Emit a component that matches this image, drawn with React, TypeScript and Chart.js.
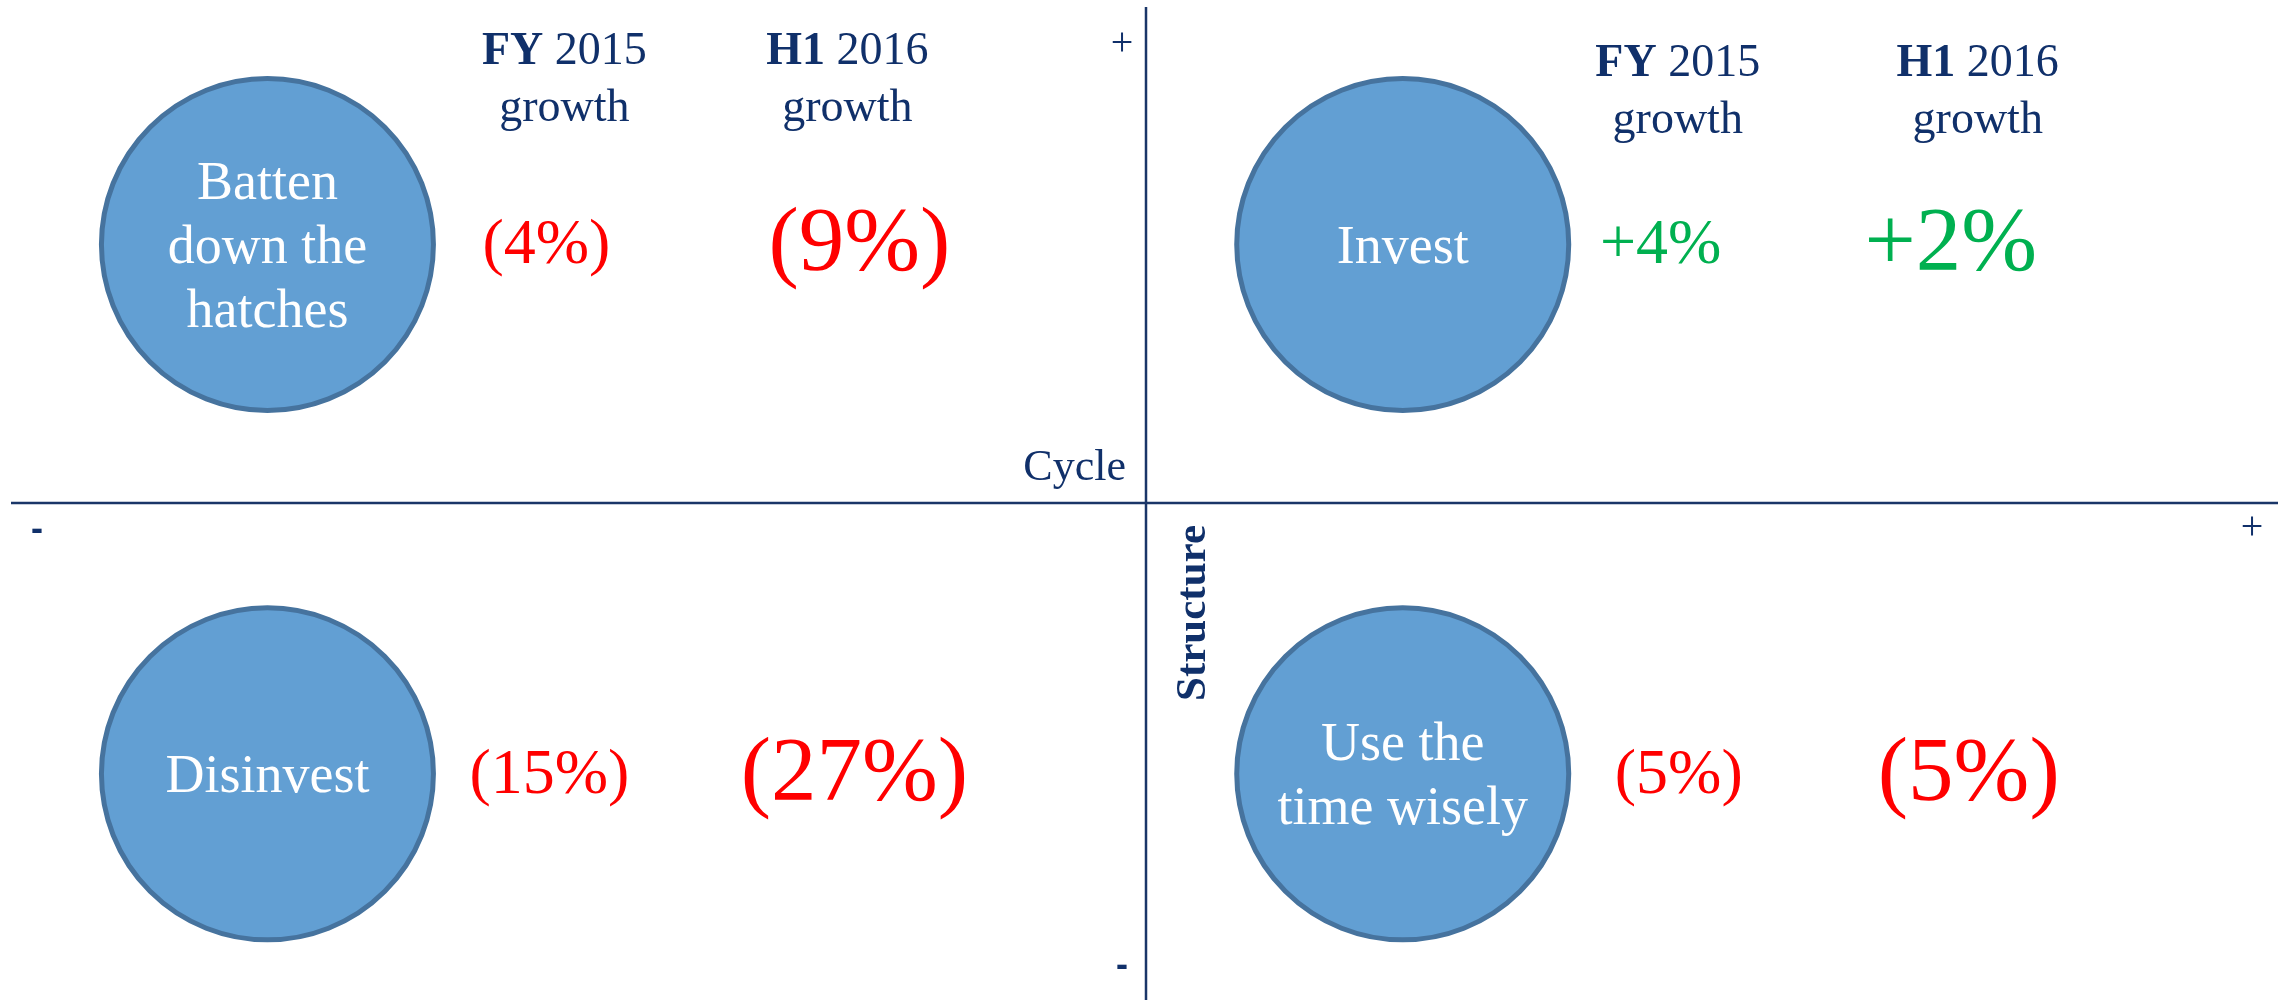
import { useEffect, useRef } from 'react';
import { Chart, registerables } from 'chart.js';

Chart.register(...registerables);

// ---- data ----
const quadrantLabels: string[][] = [
  ['Batten', 'down the', 'hatches'],
  ['Invest'],
  ['Disinvest'],
  ['Use the', 'time wisely'],
];
const quadrantCycle = [-0.77, 0.225, -0.77, 0.225]; // x: cycle
const quadrantStructure = [0.52, 0.52, -0.545, -0.545]; // y: structure
const fy2015Growth = [-4, 4, -15, -5];
const h12016Growth = [-9, 2, -27, -5];
const headerPrefixes = ['FY', 'H1'];
const headerYears = ['2015', '2016'];
const headerSub = 'growth';
const cycleLabel = 'Cycle';
const structureLabel = 'Structure';

// ---- styles ----
const NAVY = '#10306A';
const AXIS = '#1A3668';
const FILL = '#629FD3';
const BORDER = '#46739E';
const RED = '#FF0000';
const GREEN = '#00B050';
const SERIF = '"Liberation Serif", "Times New Roman", serif';

// per quadrant: [fy value dx, h1 value dx, fy header dx, h1 header dx, header baseline dy]
const layoutOffsets = [
  [279, 592, 297, 580, -181],
  [258, 548, 275, 575, -169],
  [282, 587, 0, 0, 0],
  [276, 566, 0, 0, 0],
];
const showHeaders = [true, true, false, false];

function fmt(v: number) {
  return v < 0 ? `(${Math.abs(v)}%)` : `+${v}%`;
}

const quadrantPlugin = {
  id: 'quadrant',
  beforeDatasetsDraw(chart: any) {
    const { ctx, chartArea, scales } = chart;
    const x0 = scales.x.getPixelForValue(0);
    const y0 = scales.y.getPixelForValue(0);
    ctx.save();
    ctx.strokeStyle = AXIS;
    ctx.lineWidth = 2.5;
    ctx.beginPath();
    ctx.moveTo(x0, chartArea.top + 1);
    ctx.lineTo(x0, chartArea.bottom);
    ctx.moveTo(chartArea.left + 6, y0);
    ctx.lineTo(chartArea.right - 9, y0);
    ctx.stroke();
    ctx.restore();
  },
  afterDatasetsDraw(chart: any) {
    const { ctx, scales, chartArea } = chart;
    const x0 = scales.x.getPixelForValue(0);
    const y0 = scales.y.getPixelForValue(0);
    ctx.save();

    // axis end signs
    ctx.fillStyle = NAVY;
    ctx.textAlign = 'center';
    ctx.textBaseline = 'middle';
    ctx.font = `40px ${SERIF}`;
    ctx.fillText('+', x0 - 24, chartArea.top + 38);
    ctx.fillText('+', chartArea.right - 35, y0 + 25);
    ctx.font = `bold 30px "DejaVu Sans", sans-serif`;
    ctx.fillText('-', chartArea.left + 32, y0 + 29);
    ctx.fillText('-', x0 - 24, chartArea.bottom - 32);

    // axis names
    ctx.font = `44px ${SERIF}`;
    ctx.textAlign = 'right';
    ctx.textBaseline = 'alphabetic';
    ctx.fillText(cycleLabel, x0 - 20, y0 - 23);
    ctx.save();
    ctx.translate(x0 + 59, y0 + 110);
    ctx.rotate(-Math.PI / 2);
    ctx.textAlign = 'center';
    ctx.font = `bold 43px ${SERIF}`;
    ctx.fillText(structureLabel, 0, 0);
    ctx.restore();

    const meta = chart.getDatasetMeta(0);
    meta.data.forEach((pt: any, i: number) => {
      const cx = pt.x;
      const cy = pt.y;
      const off = layoutOffsets[i];

      // label inside bubble
      ctx.fillStyle = '#FFFFFF';
      ctx.textAlign = 'center';
      ctx.textBaseline = 'alphabetic';
      ctx.font = `54px ${SERIF}`;
      const lines = quadrantLabels[i];
      lines.forEach((ln, k) => {
        ctx.fillText(ln, cx, cy + 18 + (k - (lines.length - 1) / 2) * 64);
      });

      // growth values
      const vals = [fy2015Growth[i], h12016Growth[i]];
      const sizes = [64, 91];
      vals.forEach((v, k) => {
        ctx.fillStyle = v < 0 ? RED : GREEN;
        ctx.textAlign = 'center';
        ctx.textBaseline = 'middle';
        ctx.font = `${sizes[k]}px ${SERIF}`;
        ctx.fillText(fmt(v), cx + off[k], cy + 2);
      });

      // headers
      if (showHeaders[i]) {
        ctx.fillStyle = NAVY;
        ctx.textBaseline = 'alphabetic';
        headerPrefixes.forEach((p, k) => {
          const hx = cx + off[2 + k];
          const by = cy + off[4];
          const boldFont = `bold 46px ${SERIF}`;
          const normFont = `46px ${SERIF}`;
          ctx.font = boldFont;
          const w1 = ctx.measureText(p).width;
          ctx.font = normFont;
          const rest = ' ' + headerYears[k];
          const w2 = ctx.measureText(rest).width;
          const start = hx - (w1 + w2) / 2;
          ctx.textAlign = 'left';
          ctx.font = boldFont;
          ctx.fillText(p, start, by);
          ctx.font = normFont;
          ctx.fillText(rest, start + w1, by);
          ctx.textAlign = 'center';
          ctx.fillText(headerSub, hx, by + 57);
        });
      }
    });
    ctx.restore();
  },
};

export default function App() {
  const ref = useRef<HTMLCanvasElement | null>(null);
  useEffect(() => {
    if (!ref.current) return;
    const chart = new Chart(ref.current, {
      type: 'bubble',
      data: {
        datasets: [
          {
            data: quadrantCycle.map((x, i) => ({ x, y: quadrantStructure[i], r: 166 })),
            backgroundColor: FILL,
            borderColor: BORDER,
            borderWidth: 5,
            hoverBorderWidth: 5,
            clip: false as any,
          },
        ],
      },
      options: {
        responsive: false,
        maintainAspectRatio: false,
        animation: false,
        events: [],
        layout: { autoPadding: false, padding: { left: 5, top: 6, right: 0, bottom: 0 } },
        scales: {
          x: { type: 'linear', min: -1, max: 1, display: false },
          y: { type: 'linear', min: -1, max: 1, display: false },
        },
        plugins: { legend: { display: false }, tooltip: { enabled: false } },
      },
      plugins: [quadrantPlugin],
    });
    return () => chart.destroy();
  }, []);
  return (
    <div style={{ position: 'absolute', left: 0, top: 0, width: 2287, height: 1000, background: '#fff' }}>
      <canvas ref={ref} width={2287} height={1000} style={{ display: 'block', width: 2287, height: 1000 }} />
    </div>
  );
}
